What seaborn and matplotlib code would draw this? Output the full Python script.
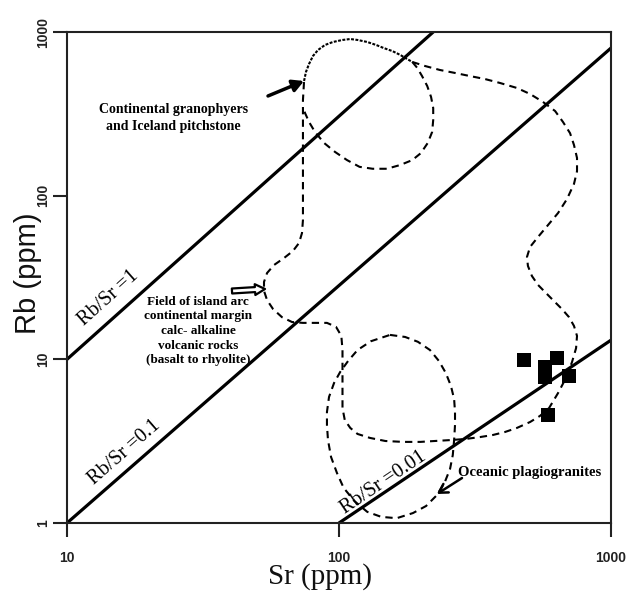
import math
import matplotlib
matplotlib.use('Agg')
import matplotlib.pyplot as plt
from matplotlib.ticker import FixedLocator, NullLocator
import seaborn as sns

# Rb/Sr reference lines, end points in ppm
ratio_names = ['Rb/Sr =1', 'Rb/Sr =0.1', 'Rb/Sr =0.01']
ratio_sr = [[10, 222], [10, 1000], [100, 1000]]
ratio_rb = [[10, 1000], [1, 798], [1, 13.1]]

# analysed samples
sample_sr = [479, 633, 572, 572, 701, 587]
sample_rb = [9.91, 10.2, 8.98, 7.8, 7.91, 4.57]

# top cap of the granophyre / pitchstone field
cap_sr = [74.4, 75.6, 77.6, 80.2, 83.7, 88.8, 95, 103, 110, 117, 127, 137, 146, 157, 168, 178, 186]
cap_rb = [502, 570, 638, 713, 776, 833, 869, 894, 906, 894, 869, 833, 798, 765, 724, 684, 656]

# lower loop of the granophyre / pitchstone field
gran_sr = [186, 194, 202, 211, 218, 222, 222, 220, 212, 200, 186, 168, 150, 133, 119, 107, 96.7, 88.1, 81.6, 77.6, 75, 73.7]
gran_rb = [656, 603, 538, 468, 401, 343, 290, 245, 210, 182, 165, 154, 146, 146, 150, 165, 185, 210, 245, 282, 320, 348]

# island arc / continental margin calc-alkaline field
arc_sr = [186, 207, 235, 267, 303, 344, 391, 451, 504, 562,
          623, 666, 707, 731, 750, 750, 731, 689, 639, 587,
          539, 504, 491, 495, 512, 539, 577, 617, 660, 701,
          731, 750, 744, 719, 683, 639, 592, 548, 504, 451,
          408, 368, 330, 291, 256, 225, 199, 172, 148, 130,
          117, 110, 105, 103, 103, 103, 103, 102, 97.5, 90.3,
          81.6, 73.7, 67.2, 61.7, 57.2, 54.4, 53.0, 53.0, 54.4, 57.7,
          62.8, 67.7, 71.3, 73.1, 73.7, 73.7, 73.7, 73.7, 73.7, 73.7,
          73.7, 74.4]
arc_rb = [656, 620, 586, 562, 538, 516, 488, 455, 418, 374,
          329, 282, 241, 204, 170, 141, 118, 95.4, 78.4, 66.2,
          55.9, 48.6, 42.2, 37.2, 32.3, 28.5, 25.4, 22.7, 20.3, 18.1,
          16, 13.9, 11.7, 9.63, 7.69, 6.23, 5.04, 4.51, 4.14, 3.81,
          3.6, 3.45, 3.35, 3.26, 3.21, 3.17, 3.13, 3.13, 3.17, 3.31,
          3.5, 3.81, 4.26, 5.04, 6.5, 8.61, 11.4, 13.9, 15.8, 16.7,
          16.7, 16.7, 16.9, 18.1, 20.3, 23, 26.2, 29.7, 33.7, 37.7,
          41.6, 45.9, 51.4, 59.1, 71, 94.1, 125, 165, 219, 290,
          384, 502]

# oceanic plagiogranite field
oce_sr = [154, 175, 195, 216, 233, 247, 258, 265, 267, 267, 265, 262, 256, 245, 229, 209, 187,
          163, 143, 127, 114, 104, 98.3, 93.5, 91.1, 90.3, 90.3, 91.9, 95.9, 101, 108, 117, 131, 154]
oce_rb = [14.1, 13.7, 12.8, 11.4, 9.77, 8.25, 6.87, 5.72, 4.77, 3.97, 3.21, 2.6, 2.14, 1.78, 1.48, 1.27, 1.15,
          1.07, 1.09, 1.17, 1.36, 1.64, 2.02, 2.53, 3.21, 3.97, 4.77, 5.89, 7.17, 8.37, 9.77, 11.4, 12.9, 14.1]

x_ticks = [10, 100, 1000]
x_tick_labels = ['10', '100', '1000']
y_ticks = [1, 10, 100, 1000]
y_tick_labels = ['1', '10', '100', '1000']

sns.set_theme(style='ticks')
plt.rcParams['font.family'] = ['Liberation Serif', 'DejaVu Serif']
plt.rcParams['text.color'] = 'black'
plt.rcParams['axes.labelcolor'] = 'black'

fig = plt.figure(figsize=(6.26, 5.92), dpi=100)
ax = fig.add_axes([67 / 626, 69 / 592, 544 / 626, 491 / 592])
ax.set_xscale('log')
ax.set_yscale('log')
ax.set_xlim(10, 1000)
ax.set_ylim(1, 1000)

DASH = (0, (3.5, 2.5))


def trace(xs, ys, **kw):
    sns.lineplot(x=xs, y=ys, sort=False, estimator=None, color='black', ax=ax, **kw)


# field boundaries
trace(arc_sr, arc_rb, linewidth=1.5, linestyle=DASH)
trace(gran_sr, gran_rb, linewidth=1.5, linestyle=DASH)
trace(oce_sr, oce_rb, linewidth=1.5, linestyle=DASH)
trace(cap_sr, cap_rb, linewidth=1.5, linestyle=(0, (1.4, 0.7)))

# Rb/Sr ratio lines with their labels
label_pos = [(0.0754, 0.458), (0.105, 0.1446), (0.581, 0.0815)]
for name, xs, ys, (fx, fy) in zip(ratio_names, ratio_sr, ratio_rb, label_pos):
    trace(xs, ys, linewidth=2.3)
    p = ax.transData.transform(list(zip(xs, ys)))
    ang = math.degrees(math.atan2(p[1, 1] - p[0, 1], p[1, 0] - p[0, 0]))
    ax.text(fx, fy, name, transform=ax.transAxes, rotation=ang, rotation_mode='anchor',
            ha='center', va='center', fontsize=14.5, color='black')

# samples
sns.scatterplot(x=sample_sr, y=sample_rb, marker='s', s=115, color='black',
                linewidth=0, ax=ax, zorder=5)

# field names and pointers
ax.text(0.195, 0.825, 'Continental granophyers\nand Iceland pitchstone', transform=ax.transAxes,
        ha='center', va='center', fontsize=10, fontweight='bold', linespacing=1.35)
ax.text(0.241, 0.391, 'Field of island arc\ncontinental margin\ncalc- alkaline\nvolcanic rocks\n(basalt to rhyolite)',
        transform=ax.transAxes, ha='center', va='center', fontsize=9.5, fontweight='bold',
        linespacing=1.3)
ax.text(0.719, 0.102, 'Oceanic plagiogranites', transform=ax.transAxes,
        ha='left', va='center', fontsize=10.5, fontweight='bold')

ax.annotate('', xy=(0.4357, 0.9002), xytext=(0.3695, 0.8697), xycoords='axes fraction',
            arrowprops=dict(arrowstyle='-|>,head_length=0.55,head_width=0.3', lw=2.5,
                            color='black', shrinkA=0, shrinkB=0))
ax.annotate('', xy=(0.364, 0.4766), xytext=(0.3033, 0.4725), xycoords='axes fraction',
            arrowprops=dict(arrowstyle='simple,head_length=0.6,head_width=0.65,tail_width=0.3',
                            fc='white', ec='black', lw=1.6, shrinkA=0, shrinkB=0))
ax.annotate('', xy=(0.6801, 0.0591), xytext=(0.7261, 0.0916), xycoords='axes fraction',
            arrowprops=dict(arrowstyle='->,head_length=0.5,head_width=0.3', lw=1.8,
                            color='black', shrinkA=0, shrinkB=0))

# axes, ticks and labels
for s in ax.spines.values():
    s.set_linewidth(1.5)
    s.set_color('#222222')
ax.xaxis.set_major_locator(FixedLocator(x_ticks))
ax.yaxis.set_major_locator(FixedLocator(y_ticks))
ax.xaxis.set_minor_locator(NullLocator())
ax.yaxis.set_minor_locator(NullLocator())
ax.set_xticklabels(x_tick_labels)
ax.set_yticklabels(y_tick_labels, rotation=90, va='center')
ax.tick_params(which='major', direction='out', length=10, width=1.5, color='#222222')
ax.tick_params(axis='x', pad=10)
ax.tick_params(axis='y', pad=2)
for lab in ax.get_xticklabels() + ax.get_yticklabels():
    lab.set_fontfamily(['Liberation Sans', 'DejaVu Sans'])
    lab.set_fontweight('bold')
    lab.set_fontsize(10)
    lab.set_color('#222222')

ax.set_ylabel('Rb (ppm)', fontfamily=['Liberation Sans', 'DejaVu Sans'], fontsize=21,
              va='center', color='#111111')
ax.yaxis.set_label_coords(-0.0717, 0.509)
ax.set_xlabel('Sr (ppm)', fontsize=21, va='center', color='#111111')
ax.xaxis.set_label_coords(0.465, -0.110)

fig.savefig('out.png', dpi=100)
